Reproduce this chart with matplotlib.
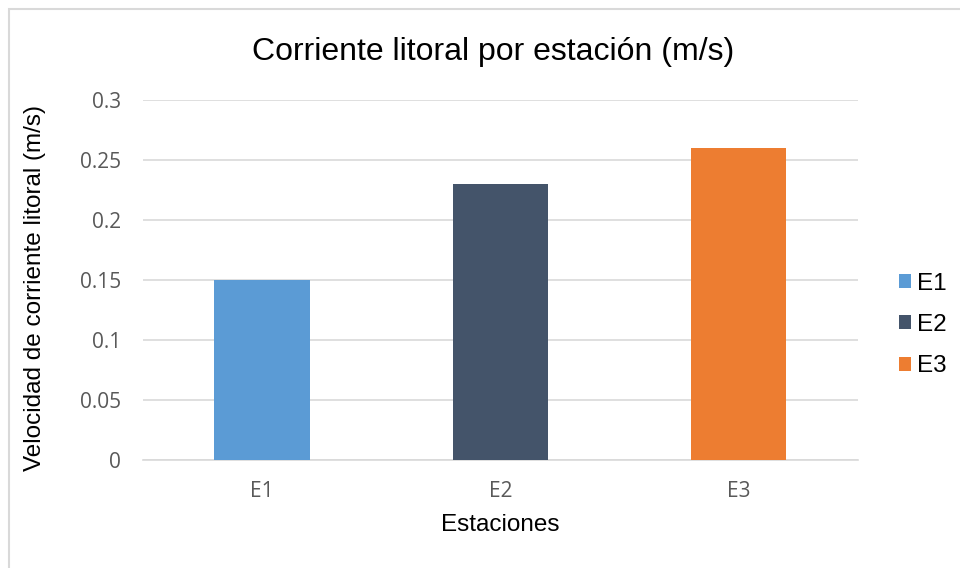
import matplotlib.pyplot as plt
from matplotlib.patches import Rectangle

estaciones = ["E1", "E2", "E3"]
velocidad = [0.15, 0.23, 0.26]
colores = ["#5B9BD5", "#44546A", "#ED7D31"]
yticks = [0, 0.05, 0.1, 0.15, 0.2, 0.25, 0.3]
ytick_labels = ["0", "0.05", "0.1", "0.15", "0.2", "0.25", "0.3"]

fig = plt.figure(figsize=(9.6, 5.68), dpi=100)
ax = fig.add_axes([143 / 960, 1 - 460 / 568, 715 / 960, 360 / 568])

# chart border (light gray, runs off the right and bottom edges)
fig.patches.append(Rectangle((9 / 960, -0.1), 1.2, 1 - 9 / 568 + 0.1,
                             transform=fig.transFigure, fill=False,
                             edgecolor="#D9D9D9", linewidth=1.5))

x = range(len(estaciones))
bars = ax.bar(x, velocidad, width=0.4, color=colores, zorder=3)

ax.set_xlim(-0.5, 2.5)
ax.set_ylim(0, 0.3)
ax.set_yticks(yticks)
ax.set_yticklabels(ytick_labels)
ax.set_xticks(list(x))
ax.set_xticklabels(estaciones)
ax.tick_params(length=0, labelsize=15, labelcolor="#595959")
for lab in ax.get_xticklabels() + ax.get_yticklabels():
    lab.set_fontfamily("Open Sans")
ax.tick_params(axis="y", pad=16)
ax.tick_params(axis="x", pad=15)

ax.grid(axis="y", color="#D9D9D9", linewidth=1.2, zorder=0)
for s in ["top", "right", "left"]:
    ax.spines[s].set_visible(False)
ax.spines["bottom"].set_color("#D9D9D9")
ax.spines["bottom"].set_linewidth(1.2)

ax.set_title("Corriente litoral por estación (m/s)", fontsize=23,
             fontfamily="Liberation Sans", pad=29, x=0.49)
ax.set_xlabel("Estaciones", fontsize=17.5, fontfamily="Liberation Sans")
ax.xaxis.set_label_coords(0.5, (460 - 525) / 360)
ax.xaxis.label.set_va("center")
ax.set_ylabel("Velocidad de corriente litoral (m/s)", fontsize=17.5,
              fontfamily="Liberation Sans")
ax.yaxis.set_label_coords((35 - 143) / 715, (460 - 288) / 360)
ax.yaxis.label.set_va("center")

leg = ax.legend(bars, estaciones, loc="center left", bbox_to_anchor=(1.027, 0.375),
                frameon=False, handlelength=0.5, handleheight=0.5,
                handletextpad=0.25, labelspacing=0.8,
                prop={"family": "Liberation Sans", "size": 17.5})

fig.savefig("out.png", dpi=100)
